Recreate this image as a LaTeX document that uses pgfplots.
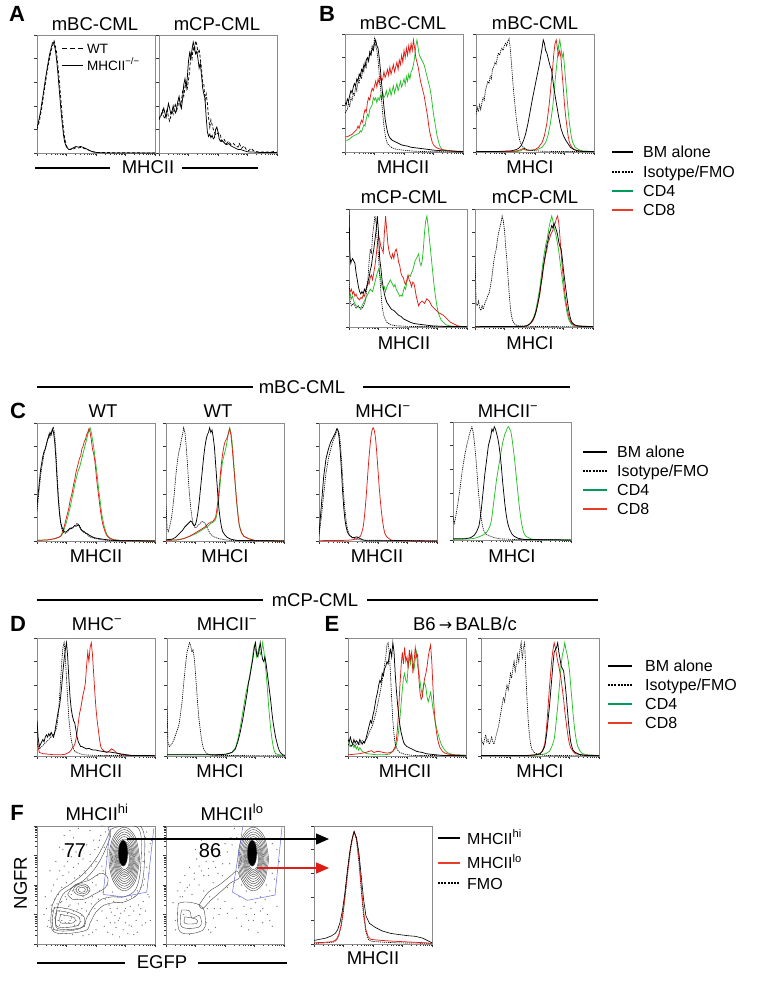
\documentclass[border=0pt]{standalone}
\usepackage{pgfplots}
\pgfplotsset{compat=1.18}
\usetikzlibrary{arrows.meta}
\usepackage{fontspec}
\setmainfont{Liberation Sans}
\newfontfamily\dejavu{DejaVu Sans}
\definecolor{cRed}{RGB}{222,30,22}
\definecolor{cGreen}{RGB}{40,190,40}
\definecolor{lGreen}{RGB}{0,155,90}
\definecolor{lRed}{RGB}{232,62,40}
\definecolor{gBlue}{RGB}{95,95,225}
\newcommand\ts{\fontsize{18.5}{20}\selectfont}
\newcommand\ls{\fontsize{16}{18}\selectfont}
\newcommand\bs{\fontsize{22}{24}\selectfont\bfseries}
\pgfplotsset{
 hbox/.style={scale only axis, width=118pt, height=118pt, xmin=0, xmax=100, ymin=0, ymax=100,
  anchor=north west, axis line style={black!45, line width=0.5pt},
  xtick={0,25,50,75,100},
  minor xtick={7.5,11.9,15.1,17.5,19.5,21.1,22.6,23.9,32.5,36.9,40.1,42.5,44.5,46.1,47.6,48.9,57.5,61.9,65.1,67.5,69.5,71.1,72.6,73.9,82.5,86.9,90.1,92.5,94.5,96.1,97.6,98.9},
  ytick={0,20,40,60,80,100}, xticklabels={}, yticklabels={},
  tick style={black!80, line width=0.4pt}, major tick length=3pt, minor tick length=1.8pt,
  tick align=outside, xtick pos=bottom, ytick pos=left},
 fbox/.style={hbox, ytick={0,25,50,75,100},
  minor ytick={7.5,11.9,15.1,17.5,19.5,21.1,22.6,23.9,32.5,36.9,40.1,42.5,44.5,46.1,47.6,48.9,57.5,61.9,65.1,67.5,69.5,71.1,72.6,73.9,82.5,86.9,90.1,92.5,94.5,96.1,97.6,98.9}},
 bk/.style={black, line width=0.75pt},
 dt/.style={black, line width=0.65pt, dash pattern=on 1.2pt off 0.9pt},
 rd/.style={cRed, line width=0.75pt},
 gr/.style={cGreen, line width=0.75pt},
 ct/.style={black!80, line width=0.35pt, smooth, tension=0.6},
 dots/.style={only marks, mark=*, mark size=0.35pt, black!55},
}
\newcommand\mainblob{
\addplot[ct] coordinates {(87,72)(83.2,91.1)(74,99)(64.8,91.1)(61,72)(64.8,52.9)(74,45)(83.2,52.9)(87,72)};
\addplot[ct] coordinates {(86,72)(82.5,89.7)(74,97)(65.5,89.7)(62,72)(65.5,54.3)(74,47)(82.5,54.3)(86,72)};
\addplot[ct] coordinates {(85,72)(81.8,88.3)(74,95)(66.2,88.3)(63,72)(66.2,55.7)(74,49)(81.8,55.7)(85,72)};
\addplot[ct] coordinates {(84,72)(81.1,86.8)(74,93)(66.9,86.8)(64,72)(66.9,57.2)(74,51)(81.1,57.2)(84,72)};
\addplot[ct] coordinates {(83,72)(80.4,85.4)(74,91)(67.6,85.4)(65,72)(67.6,58.6)(74,53)(80.4,58.6)(83,72)};
\addplot[ct] coordinates {(82.2,72)(79.8,84)(74,89)(68.2,84)(65.8,72)(68.2,60)(74,55)(79.8,60)(82.2,72)};
\addplot[ct] coordinates {(81.5,72)(79.3,82.6)(74,87)(68.7,82.6)(66.5,72)(68.7,61.4)(74,57)(79.3,61.4)(81.5,72)};
\addplot[ct] coordinates {(80.8,72)(78.8,81.5)(74,85.5)(69.2,81.5)(67.2,72)(69.2,62.5)(74,58.5)(78.8,62.5)(80.8,72)};
\addplot[ct] coordinates {(80,72)(78.2,80.5)(74,84)(69.8,80.5)(68,72)(69.8,63.5)(74,60)(78.2,63.5)(80,72)};
\addplot[ct] coordinates {(79.2,72)(77.7,79.4)(74,82.5)(70.3,79.4)(68.8,72)(70.3,64.6)(74,61.5)(77.7,64.6)(79.2,72)};
\addplot[ct] coordinates {(78.5,72)(77.2,78.4)(74,81)(70.8,78.4)(69.5,72)(70.8,65.6)(74,63)(77.2,65.6)(78.5,72)};
\addplot[ct, fill=black] coordinates {(77,77)(75.8,84.8)(73,88)(70.2,84.8)(69,77)(70.2,69.2)(73,66)(75.8,69.2)(77,77)};
}
\begin{document}
\begin{tikzpicture}[x=1pt,y=1pt]
\path[use as bounding box] (0,0) rectangle (759,-993);

% ---------------- Panel A ----------------
\node[anchor=base, font=\bs] at (17,-21) {A};
\node[anchor=base, font=\ts] at (95,-30) {mBC-CML};
\node[anchor=base, font=\ts] at (217,-30) {mCP-CML};
\begin{axis}[hbox, at={(37pt,-35pt)}]
\addplot[black, line width=0.75pt, dash pattern=on 3pt off 2pt] coordinates {(0,20)(2,27)(4,38)(6,52)(8,65)(10,77)(12,87)(13.5,92)(14.5,95)(15.5,91)(16.5,86)(17.5,76)(18.5,66)(19.5,54)(20.5,42)(21.5,30)(22.5,20)(23.5,12)(25,6)(27,3)(29,3)(31,3.5)(33,4.5)(35,4.2)(37,4.8)(39,4.2)(41,3.5)(43,2.8)(45,1.8)(48,1)(52,0.4)(100,0)};
\addplot[bk] coordinates {(0,22)(1,25)(2,30)(3,35)(4,42)(5,48)(6,55)(7,62)(8,68)(9,74)(10,80)(11,85)(12,89)(13,93)(13.8,94)(14.5,92)(15.5,88)(16.5,80)(17.5,70)(18.5,58)(19.5,46)(20.5,34)(21.5,24)(22.5,15)(23.5,9)(25,5)(27,3)(29,3.5)(31,4.5)(33,5.5)(35,5)(37,5.5)(39,4.8)(41,4)(43,3)(45,2)(47,1)(50,0.5)(55,0.2)(60,0)(100,0)};
\end{axis}
\draw[black, line width=1pt, dash pattern=on 5pt off 3pt] (62,-48) -- (83,-48);
\draw[black, line width=1pt] (62,-65) -- (83,-65);
\node[anchor=base west, inner sep=0pt, font=\fontsize{13.5}{15}\selectfont] at (87,-53) {WT};
\node[anchor=base west, inner sep=0pt, font=\fontsize{13.5}{15}\selectfont] at (87,-70) {MHCII\textsuperscript{−/−}};
\begin{axis}[hbox, at={(159pt,-35pt)}]
\addplot[black, line width=0.75pt, dash pattern=on 3pt off 2pt] coordinates {(0,28)(2,33)(3,36)(4,31)(5,29)(6,33)(7,38)(8,30)(9,27)(10,31)(11,36)(12,33)(13,38)(14,42)(15,36)(16,40)(17,45)(18,40)(19,44)(20,52)(21,48)(22,56)(23,60)(24,55)(25,62)(26,70)(27,84)(28,80)(29,90)(30,86)(31,95)(32,92)(33,85)(34,88)(35,80)(36,72)(37,60)(38,58)(39,45)(40,50)(41,42)(42,30)(43,22)(44,28)(45,24)(46,20)(47,18)(48,15)(50,17)(52,16)(53,10)(55,12)(57,8)(59,10)(61,7)(63,8)(65,6)(67,5)(68,8)(70,4)(72,6)(74,3)(76,2)(78,4)(80,2)(83,1)(86,0.8)(90,1)(94,0.6)(97,1.2)(100,0.5)};
\addplot[bk] coordinates {(0,30)(2,32)(4,38)(5,34)(6,30)(7,36)(8,42)(9,38)(10,33)(11,35)(12,40)(13,36)(14,34)(15,38)(16,44)(17,48)(18,42)(19,38)(20,46)(21,58)(22,63)(23,55)(24,64)(25,78)(26,85)(27,80)(28,88)(29,94)(30,90)(31,84)(32,86)(33,80)(34,72)(35,76)(36,66)(37,55)(38,50)(39,46)(40,30)(41,18)(42,14)(43,16)(44,13)(45,15)(46,12)(47,13)(48,20)(49,22)(50,18)(51,12)(52,10)(53,11)(55,9)(57,7)(59,8)(61,6)(63,5)(65,4)(67,3)(69,3)(72,2)(75,1)(80,0.8)(85,0.5)(90,0.4)(95,0.5)(100,0.4)};
\end{axis}
\draw[line width=1.1pt] (35,-168) -- (110,-168);
\draw[line width=1.1pt] (182,-168) -- (258,-168);
\node[anchor=base, font=\ts] at (148,-173) {MHCII};

% ---------------- Panel B ----------------
\node[anchor=base, font=\bs] at (327,-21) {B};
\node[anchor=base, font=\ts] at (403,-29) {mBC-CML};
\node[anchor=base, font=\ts] at (535,-29) {mBC-CML};
\begin{axis}[hbox, at={(345pt,-34pt)}]
\addplot[gr] coordinates {(0,10)(2,10)(4,11)(6,13)(8,14)(10,15)(12,16)(13,18)(14,17)(15,20)(16,23)(17,22)(18,28)(19,32)(20,30)(21,36)(22,38)(23,40)(24,46)(25,44)(26,46)(27,42)(28,46)(29,44)(30,48)(31,45)(32,50)(33,46)(34,48)(35,52)(36,47)(37,50)(38,54)(39,48)(40,52)(41,56)(42,50)(43,54)(44,58)(45,52)(46,56)(47,60)(48,55)(49,58)(50,62)(51,57)(52,64)(53,60)(54,66)(55,62)(56,68)(57,70)(58,74)(59,80)(60,90)(61,95)(62,88)(63,82)(64,80)(65,78)(66,76)(67,74)(68,70)(69,66)(70,62)(71,58)(72,54)(73,48)(74,40)(75,32)(76,26)(77,20)(78,14)(79,10)(80,6)(81,4)(82,2.5)(84,1.5)(88,1)(95,0.5)(100,0.4)};
\addplot[rd] coordinates {(0,13)(2,13)(4,14)(6,15)(8,17)(10,19)(11,22)(12,20)(13,24)(14,27)(15,25)(16,32)(17,36)(18,34)(19,42)(20,46)(21,44)(22,50)(23,54)(24,52)(25,56)(26,60)(27,55)(28,62)(29,58)(30,64)(31,60)(32,62)(33,68)(34,63)(35,66)(36,70)(37,65)(38,72)(39,66)(40,70)(41,74)(42,68)(43,72)(44,76)(45,70)(46,78)(47,74)(48,82)(49,76)(50,86)(51,80)(52,88)(53,82)(54,90)(55,84)(56,92)(57,86)(58,95)(59,88)(60,80)(61,76)(62,72)(63,66)(64,60)(65,56)(66,52)(67,48)(68,42)(69,36)(70,30)(71,22)(72,16)(73,12)(74,8)(75,6)(77,4)(79,3)(82,2)(86,1.5)(90,1)(95,0.6)(100,0.5)};
\addplot[dt] coordinates {(0,33)(2,36)(3,42)(4,38)(5,46)(6,44)(7,50)(8,48)(9,56)(10,52)(11,60)(12,58)(13,66)(14,62)(15,70)(16,68)(17,76)(18,72)(19,80)(20,78)(21,86)(22,82)(23,90)(24,88)(25,96)(26,90)(27,86)(28,78)(29,66)(30,56)(31,44)(32,32)(33,22)(34,15)(35,10)(36,7)(38,5)(40,3.5)(43,2.5)(46,2)(50,1.5)(55,1)(60,0.6)(70,0.3)(100,0)};
\addplot[bk] coordinates {(0,42)(1,40)(2,45)(3,43)(4,48)(5,52)(6,50)(7,55)(8,58)(9,56)(10,62)(11,60)(12,66)(13,64)(14,70)(15,68)(16,74)(17,72)(18,78)(19,80)(20,77)(21,84)(22,82)(23,88)(24,86)(25,92)(26,95)(27,90)(28,88)(29,80)(30,70)(31,58)(32,48)(33,38)(34,28)(35,22)(36,17)(37,14)(38,12)(40,10)(42,9)(44,8)(46,7)(48,6)(50,5.5)(53,5)(56,4)(60,3.5)(64,3)(68,2.5)(72,2)(76,1.5)(80,1.2)(85,1)(90,0.8)(95,0.5)(100,0.5)};
\end{axis}
\begin{axis}[hbox, at={(476pt,-34pt)}]
\addplot[gr] coordinates {(0,0.5)(35,0.5)(38,1)(40,2.5)(41,3.5)(42,2.5)(44,1.5)(48,1.5)(52,2)(56,4)(59,8)(61,14)(63,24)(65,38)(66,48)(67,60)(68,70)(69,80)(70,90)(71,95)(72,88)(73,80)(74,84)(75,72)(76,60)(77,48)(78,36)(79,26)(80,18)(81,12)(82,8)(84,4)(87,2)(90,1)(100,0.3)};
\addplot[rd] coordinates {(0,0.5)(30,0.5)(35,1)(38,2)(40,3)(41,2)(43,1.5)(46,1.5)(50,2)(53,4)(56,8)(58,14)(60,24)(62,40)(63,50)(64,62)(65,72)(66,84)(67,92)(68,95)(69,88)(70,82)(71,86)(72,80)(73,66)(74,54)(75,40)(76,30)(77,22)(78,14)(79,9)(80,6)(82,3)(85,1.5)(90,0.5)(100,0.3)};
\addplot[dt] coordinates {(0,32)(1,38)(2,34)(3,40)(4,36)(5,42)(6,46)(7,44)(8,52)(9,56)(10,60)(11,58)(12,64)(13,62)(14,70)(15,72)(16,76)(17,74)(18,80)(19,84)(20,82)(21,86)(22,88)(23,86)(24,90)(25,92)(26,90)(27,94)(28,96)(29,88)(30,76)(31,62)(32,50)(33,40)(34,30)(35,22)(36,15)(37,10)(38,7)(40,4)(42,2.5)(45,1.5)(50,1)(60,0.5)(100,0.3)};
\addplot[bk] coordinates {(0,0.5)(20,0.5)(30,1)(34,2)(36,3)(38,5)(40,9)(42,15)(44,24)(46,35)(48,46)(50,56)(52,66)(54,76)(55,82)(56,88)(57,95)(58,92)(59,86)(60,84)(61,80)(62,76)(63,72)(64,70)(65,62)(66,54)(67,48)(68,42)(69,36)(70,30)(72,20)(74,14)(76,10)(78,7)(80,4)(83,2)(86,1)(90,0.5)(100,0.3)};
\end{axis}
\node[anchor=base, font=\ts] at (403,-173) {MHCII};
\node[anchor=base, font=\ts] at (530,-173) {MHCI};
\node[anchor=base, font=\ts] at (404,-203) {mCP-CML};
\node[anchor=base, font=\ts] at (535,-203) {mCP-CML};
\begin{axis}[hbox, at={(349pt,-209pt)}]
\addplot[gr] coordinates {(0,26)(1,28)(2,24)(3,26)(4,22)(5,20)(6,18)(8,17)(10,16)(12,20)(14,24)(16,28)(18,32)(20,30)(21,34)(22,38)(23,42)(24,46)(25,49)(26,46)(27,40)(28,34)(29,32)(30,34)(31,30)(32,34)(33,36)(34,38)(35,40)(36,38)(37,36)(38,34)(39,36)(40,32)(41,30)(42,28)(43,26)(44,27)(45,26)(46,30)(47,34)(48,32)(49,38)(50,42)(51,44)(52,43)(53,46)(54,48)(55,52)(56,56)(57,58)(58,60)(59,62)(60,55)(61,52)(62,56)(63,66)(64,80)(65,90)(66,94)(67,86)(68,76)(69,66)(70,56)(71,46)(72,36)(73,28)(74,21)(75,15)(76,11)(78,6)(80,4)(82,2)(85,1)(90,0.5)(100,0.3)};
\addplot[rd] coordinates {(0,32)(1,30)(2,32)(3,28)(4,30)(5,26)(6,28)(7,25)(8,24)(9,23)(10,25)(11,24)(12,27)(13,26)(14,30)(15,34)(16,38)(17,36)(18,42)(19,44)(20,40)(21,46)(22,52)(23,60)(24,70)(25,77)(26,74)(27,68)(28,66)(29,63)(30,80)(31,94)(32,82)(33,70)(34,64)(35,60)(36,58)(37,62)(38,58)(39,64)(40,66)(41,62)(42,55)(43,52)(44,46)(45,43)(46,42)(47,38)(48,36)(49,40)(50,44)(51,40)(52,38)(53,34)(54,38)(55,37)(56,32)(57,26)(58,22)(59,18)(60,20)(62,22)(64,20)(66,24)(68,22)(70,18)(72,16)(74,14)(76,12)(78,11)(80,10)(82,8)(84,6)(86,4)(88,3)(90,2)(92,1)(95,0.5)(100,0.3)};
\addplot[dt] coordinates {(0,40)(1,22)(2,18)(4,20)(6,16)(8,18)(10,15)(12,17)(14,22)(16,40)(17,55)(18,66)(19,62)(20,78)(21,86)(22,94)(23,88)(24,72)(25,60)(26,44)(27,30)(28,18)(29,12)(30,8)(32,4)(35,2)(40,1)(50,0.5)(100,0.2)};
\addplot[bk] coordinates {(0,100)(0.8,60)(1.5,54)(2,56)(3,58)(4,56)(5,54)(6,46)(7,40)(8,34)(9,30)(10,28)(11,30)(12,28)(13,32)(14,30)(15,34)(16,38)(17,42)(18,48)(19,52)(20,60)(21,66)(22,74)(23,82)(24,94)(25,80)(26,58)(27,50)(28,40)(29,34)(30,28)(31,24)(32,21)(34,18)(36,15)(38,14)(40,12)(42,10)(44,9)(46,7)(48,6)(50,5)(52,4)(55,3)(58,2.5)(62,2)(66,1.5)(70,1)(80,0.5)(100,0.3)};
\end{axis}
\begin{axis}[hbox, at={(475pt,-209pt)}]
\addplot[gr] coordinates {(0,0.3)(42,0.5)(46,2)(49,6)(51,12)(53,22)(55,34)(56,42)(57,50)(58,58)(59,64)(60,70)(61,74)(62,80)(63,86)(64,90)(65,94)(66,90)(67,84)(68,80)(69,76)(70,70)(71,64)(72,56)(73,48)(74,40)(75,32)(76,24)(77,18)(78,12)(79,8)(80,5)(82,2)(85,1)(100,0.3)};
\addplot[rd] coordinates {(0,0.3)(42,0.5)(46,2)(49,5)(51,10)(53,18)(55,28)(56,36)(57,42)(58,50)(59,56)(60,62)(61,66)(62,72)(63,74)(64,78)(65,80)(66,82)(67,86)(68,88)(69,92)(70,94)(71,88)(72,76)(73,62)(74,50)(75,40)(76,30)(77,22)(78,16)(79,11)(80,7)(82,3)(85,1)(100,0.3)};
\addplot[dt] coordinates {(0,60)(1,20)(2,18)(3,22)(4,16)(5,14)(6,18)(7,15)(8,19)(9,22)(10,24)(11,27)(12,29)(13,34)(14,40)(15,48)(16,56)(17,62)(18,66)(19,74)(20,80)(21,84)(22,88)(23,94)(24,90)(25,82)(26,68)(27,57)(28,42)(29,28)(30,16)(31,9)(32,5)(34,2)(37,1)(45,0.5)(100,0.2)};
\addplot[bk] coordinates {(0,0.3)(40,0.5)(44,1)(47,3)(50,8)(52,14)(54,24)(55,30)(56,37)(57,44)(58,52)(59,58)(60,64)(61,70)(62,74)(63,80)(64,82)(65,86)(66,84)(67,88)(68,85)(69,82)(70,78)(71,72)(72,68)(73,66)(74,58)(75,48)(76,40)(77,32)(78,24)(79,17)(80,11)(81,7)(82,4)(84,2)(87,1)(90,0.5)(100,0.3)};
\end{axis}
\node[anchor=base, font=\ts] at (404,-349) {MHCII};
\node[anchor=base, font=\ts] at (530,-349) {MHCI};
% legend B
\draw[black, line width=1.3pt] (612,-152) -- (633,-152);
\draw[black, line width=1.2pt, dash pattern=on 2pt off 1.2pt] (612,-172) -- (633,-172);
\draw[lGreen, line width=1.3pt] (612,-191) -- (633,-191);
\draw[lRed, line width=1.3pt] (612,-210) -- (633,-210);
\node[anchor=base west, inner sep=0pt, font=\ls] at (643,-157.5) {BM alone};
\node[anchor=base west, inner sep=0pt, font=\ls] at (643,-177.5) {Isotype/FMO};
\node[anchor=base west, inner sep=0pt, font=\ls] at (643,-196.5) {CD4};
\node[anchor=base west, inner sep=0pt, font=\ls] at (643,-215.5) {CD8};

% ---------------- mBC-CML rule ----------------
\draw[line width=1.1pt] (37,-387) -- (253,-387);
\draw[line width=1.1pt] (363,-387) -- (570,-387);
\node[anchor=base, font=\ts] at (302,-393.5) {mBC-CML};

% ---------------- Panel C ----------------
\node[anchor=base, font=\bs] at (18,-418) {C};
\node[anchor=base, font=\ts] at (103,-417) {WT};
\node[anchor=base, font=\ts] at (218,-417) {WT};
\node[anchor=base, font=\ts] at (383,-417) {MHCI\textsuperscript{−}};
\node[anchor=base, font=\ts] at (508,-417) {MHCII\textsuperscript{−}};
\begin{axis}[hbox, at={(37pt,-423pt)}]
\addplot[gr] coordinates {(0,0.5)(10,1)(15,2)(18,3)(20,4)(21,5)(22,7)(23,10)(24,13)(25,16)(26,20)(27,24)(28,28)(29,33)(30,38)(31,42)(32,48)(33,52)(34,56)(35,60)(36,62)(37,66)(38,70)(39,74)(40,78)(41,82)(42,86)(43,90)(44,94)(45,96)(46,92)(47,86)(48,80)(49,72)(50,64)(51,56)(52,46)(53,38)(54,30)(55,22)(56,17)(57,12)(58,9)(59,6)(60,4.5)(62,2.5)(65,1.2)(70,0.5)(100,0)};
\addplot[rd] coordinates {(0,0.5)(10,1)(15,2)(18,3)(20,4)(21,6)(22,9)(23,12)(24,16)(25,20)(26,24)(27,28)(28,34)(29,38)(30,42)(31,48)(32,52)(33,58)(34,62)(35,66)(36,70)(37,72)(38,78)(39,80)(40,84)(41,86)(42,90)(43,92)(44,95)(45,92)(46,86)(47,78)(48,74)(49,68)(50,58)(51,48)(52,40)(53,32)(54,24)(55,18)(56,13)(57,10)(58,7)(59,5)(60,3.5)(62,2)(65,1)(70,0.5)(100,0)};
\addplot[dt] coordinates {(0,25)(1,35)(2,45)(3,55)(4,62)(5,68)(6,74)(7,78)(8,82)(9,86)(10,90)(11,88)(12,92)(13,94)(14,96)(15,90)(16,76)(17,58)(18,40)(19,26)(20,16)(21,10)(22,8)(23,7)(24,6.5)(25,7)(26,8)(27,9)(28,10)(29,11)(30,11.5)(31,12)(32,13)(33,14)(34,15)(35,14)(36,13)(37,11)(38,9)(39,8)(40,7)(42,6)(44,4)(46,3)(48,2.5)(50,2)(55,1)(60,0.5)(100,0)};
\addplot[bk] coordinates {(0,30)(1,40)(2,50)(3,60)(4,66)(5,72)(6,76)(7,78)(8,82)(9,86)(10,88)(11,92)(12,90)(13,95)(14,92)(15,84)(16,70)(17,52)(18,36)(19,24)(20,16)(21,12)(22,10)(23,8)(24,7.5)(25,8)(26,9)(27,10)(28,11)(29,10.5)(30,11)(31,12)(32,13)(33,12.5)(34,13)(35,14)(36,12)(37,10)(38,9)(39,8.5)(40,8)(41,7)(42,6.5)(43,6)(44,5)(46,4)(48,3)(50,2.5)(53,2)(56,1.5)(60,1)(65,0.5)(70,0.3)(100,0)};
\end{axis}
\begin{axis}[hbox, at={(166pt,-423pt)}]
\addplot[gr] coordinates {(0,0.5)(10,1)(15,2)(20,4)(25,6)(30,9)(33,11)(36,13)(38,15)(40,16)(42,18)(43,22)(44,28)(45,38)(46,50)(47,60)(48,68)(49,72)(50,76)(51,80)(52,86)(53,92)(54,96)(55,92)(56,84)(57,72)(58,58)(59,44)(60,32)(61,22)(62,14)(63,10)(64,7)(66,4)(70,2)(75,0.5)(100,0)};
\addplot[rd] coordinates {(0,0.5)(10,1)(15,2)(20,4)(25,7)(30,10)(33,12)(36,15)(38,16)(40,17)(42,20)(43,26)(44,34)(45,44)(46,56)(47,66)(48,74)(49,80)(50,84)(51,86)(52,88)(53,92)(54,95)(55,90)(56,80)(57,68)(58,56)(59,44)(60,32)(61,22)(62,14)(63,10)(64,7)(66,4)(70,2)(75,0.5)(100,0)};
\addplot[dt] coordinates {(0,30)(1,10)(2,8)(3,12)(4,16)(5,22)(6,30)(7,40)(8,52)(9,62)(10,70)(11,76)(12,80)(13,86)(14,90)(15,96)(16,92)(17,82)(18,68)(19,52)(20,38)(21,28)(22,20)(23,15)(24,12)(25,11)(26,12)(27,13)(28,14)(29,15)(30,16)(31,16.5)(32,16)(33,15)(34,13)(35,11)(36,9)(37,7)(38,5.5)(40,4)(42,3)(45,2)(50,1)(55,0.5)(100,0)};
\addplot[bk] coordinates {(0,1)(5,1.5)(8,3)(10,5)(12,7)(14,9)(16,12)(18,14)(20,16)(21,17)(22,16)(23,14)(24,13)(25,14)(26,18)(27,24)(28,32)(29,42)(30,52)(31,62)(32,72)(33,80)(34,86)(35,90)(36,92)(37,96)(38,92)(39,94)(40,88)(41,80)(42,66)(43,52)(44,38)(45,26)(46,18)(47,12)(48,8)(50,5)(52,3)(55,1.5)(60,0.5)(100,0)};
\end{axis}
\begin{axis}[hbox, at={(319pt,-423pt)}]
\addplot[rd, smooth] coordinates {(0,0.3)(20,0.5)(28,1)(32,2)(35,4)(37,10)(38,16)(39,26)(40,38)(41,52)(42,66)(43,78)(44,88)(45,94)(46,96)(47,93)(48,86)(49,74)(50,60)(51,46)(52,34)(53,24)(54,16)(55,10)(56,6)(58,3)(60,1.5)(65,0.5)(100,0)};
\addplot[dt] coordinates {(0,4)(2,20)(4,40)(6,58)(8,70)(10,78)(12,85)(14,90)(15.5,95)(17,92)(18,84)(19,70)(20,54)(21,38)(22,26)(23,17)(24,11)(25,7)(26,5)(28,3)(30,2)(35,0.8)(100,0)};
\addplot[bk] coordinates {(0,6)(2,30)(4,55)(6,70)(8,78)(10,84)(12,88)(14,92)(15,95)(16,94)(17,88)(18,76)(19,60)(20,42)(21,28)(22,18)(23,12)(24,8)(25,6)(26,4.5)(27,4)(28,3)(30,3)(32,3.5)(34,2.5)(37,1)(40,0.3)(100,0)};
\end{axis}
\begin{axis}[hbox, at={(453pt,-422pt)}]
\addplot[gr, smooth] coordinates {(0,0.5)(15,1)(20,2)(25,4)(28,6)(30,9)(32,14)(33,20)(34,28)(35,36)(36,44)(37,52)(38,58)(39,64)(40,70)(41,76)(42,82)(43,86)(44,90)(45,92)(46,95)(47,96)(48,94)(49,92)(50,86)(51,78)(52,70)(53,60)(54,50)(55,40)(56,30)(57,22)(58,15)(59,10)(60,6)(62,3)(65,1.5)(70,0.5)(100,0)};
\addplot[dt] coordinates {(0,20)(1,14)(2,18)(4,30)(6,44)(8,60)(10,72)(12,82)(14,90)(16,96)(17,92)(18,84)(19,74)(20,62)(21,48)(22,36)(23,26)(24,18)(25,12)(26,8)(28,5)(30,4)(32,3)(35,2)(40,1)(50,0.5)(100,0)};
\addplot[bk] coordinates {(0,1)(10,1)(15,2)(18,4)(20,7)(22,12)(23,18)(24,26)(25,36)(26,46)(27,56)(28,64)(29,72)(30,80)(31,84)(32,88)(33,94)(34,92)(35,96)(36,94)(37,90)(38,86)(39,80)(40,72)(41,62)(42,50)(43,40)(44,30)(45,22)(46,16)(47,12)(48,9)(49,7)(50,5)(52,3)(55,1.5)(60,0.5)(100,0)};
\end{axis}
\node[anchor=base, font=\ts] at (96,-562) {MHCII};
\node[anchor=base, font=\ts] at (225,-562) {MHCI};
\node[anchor=base, font=\ts] at (377,-562) {MHCII};
\node[anchor=base, font=\ts] at (512,-562) {MHCI};
% legend C
\draw[black, line width=1.3pt] (583,-452) -- (607,-452);
\draw[black, line width=1.2pt, dash pattern=on 2pt off 1.2pt] (583,-471) -- (607,-471);
\draw[lGreen, line width=1.3pt] (583,-490) -- (607,-490);
\draw[lRed, line width=1.3pt] (583,-509) -- (607,-509);
\node[anchor=base west, inner sep=0pt, font=\ls] at (617,-457.5) {BM alone};
\node[anchor=base west, inner sep=0pt, font=\ls] at (617,-476.5) {Isotype/FMO};
\node[anchor=base west, inner sep=0pt, font=\ls] at (617,-495.5) {CD4};
\node[anchor=base west, inner sep=0pt, font=\ls] at (617,-514.5) {CD8};

% ---------------- mCP-CML rule ----------------
\draw[line width=1.1pt] (37,-600) -- (263,-600);
\draw[line width=1.1pt] (367,-600) -- (598,-600);
\node[anchor=base, font=\ts] at (315,-606.5) {mCP-CML};

% ---------------- Panel D ----------------
\node[anchor=base, font=\bs] at (18,-631) {D};
\node[anchor=base, font=\bs] at (332,-631) {E};
\node[anchor=base, font=\ts] at (97,-630) {MHC\textsuperscript{−}};
\node[anchor=base, font=\ts] at (227,-630) {MHCII\textsuperscript{−}};
\node[anchor=base, font=\ts] at (465,-630) {B6\,{\dejavu\fontsize{16}{18}\selectfont →}\,BALB/c};
\begin{axis}[hbox, at={(37pt,-638pt)}]
\addplot[rd] coordinates {(0,30)(0.8,8)(2,3)(5,2)(10,1.5)(15,1)(20,1)(24,1.5)(27,3)(29,5)(30,7)(31,8)(32,10)(33,14)(34,20)(35,28)(36,36)(37,40)(38,46)(39,52)(40,56)(41,62)(42,76)(43,88)(44,80)(45,92)(46,96)(47,86)(48,70)(49,54)(50,40)(51,30)(52,22)(53,14)(54,8)(55,6)(57,4)(59,3)(61,4)(63,6)(65,5)(67,3)(70,1.5)(75,1)(80,0.5)(100,0.3)};
\addplot[dt] coordinates {(0,12)(1,8)(2,6)(4,8)(6,10)(8,12)(10,14)(12,16)(14,18)(16,22)(17,26)(18,34)(19,48)(20,64)(21,80)(22,92)(23,96)(24,84)(25,66)(26,48)(27,32)(28,22)(29,14)(30,9)(31,6)(32,4)(34,3)(36,2)(40,1)(50,0.5)(100,0.3)};
\addplot[bk] coordinates {(0,30)(1,15)(2,8)(3,10)(4,12)(5,14)(6,12)(7,16)(8,18)(9,16)(10,19)(11,17)(12,20)(13,18)(14,16)(15,20)(16,26)(17,32)(18,38)(19,42)(20,50)(21,60)(22,72)(23,82)(24,90)(25,96)(26,84)(27,66)(28,50)(29,40)(30,34)(31,30)(32,28)(33,22)(34,16)(35,12)(36,10)(37,8)(38,8)(40,7)(42,6)(44,6.5)(46,5.5)(48,5)(50,5)(52,4.5)(55,4)(58,3.5)(61,3.5)(64,3)(67,2.5)(70,2)(73,1.5)(76,1)(80,0.5)(100,0.3)};
\end{axis}
\begin{axis}[hbox, at={(167pt,-638pt)}]
\addplot[gr] coordinates {(0,1)(30,1)(45,1.2)(50,1.5)(55,3)(58,7)(60,14)(62,24)(63,30)(64,36)(65,42)(66,48)(67,54)(68,58)(69,62)(70,68)(71,74)(72,80)(73,88)(74,94)(75,90)(76,84)(77,88)(78,92)(79,86)(80,88)(81,96)(82,90)(83,80)(84,70)(85,58)(86,44)(87,32)(88,22)(89,14)(90,8)(91,4)(92,2)(95,1)(100,0.5)};
\addplot[dt] coordinates {(0,42)(0.8,12)(2,8)(4,10)(6,14)(8,20)(10,26)(11,32)(12,40)(13,48)(14,60)(15,70)(16,80)(17,88)(18,92)(19,96)(20,94)(21,88)(22,90)(23,84)(24,72)(25,58)(26,44)(27,32)(28,24)(29,16)(30,10)(31,6)(32,4)(34,2)(36,1)(40,0.5)(100,0.2)};
\addplot[bk] coordinates {(0,1)(30,1)(45,1.2)(50,1.5)(55,3)(58,6)(60,12)(62,20)(64,30)(65,36)(66,42)(67,48)(68,54)(69,62)(70,66)(71,72)(72,78)(73,84)(74,92)(75,96)(76,86)(77,84)(78,90)(79,96)(80,88)(81,82)(82,80)(83,84)(84,78)(85,70)(86,62)(87,54)(88,46)(89,36)(90,28)(91,22)(92,16)(93,12)(94,8)(95,5)(96,3)(98,1)(100,0.5)};
\end{axis}
\begin{axis}[hbox, at={(348pt,-638pt)}]
\addplot[gr] coordinates {(0,13)(1,11)(2,9)(3,8)(4,10)(5,7)(6,9)(7,6)(8,8)(9,5)(10,7)(12,4)(14,3)(16,2)(20,1.5)(25,1)(30,1)(35,1.5)(38,4)(40,6)(41,10)(42,14)(43,22)(44,32)(45,44)(46,56)(47,66)(48,70)(49,64)(50,62)(51,76)(52,84)(53,78)(54,86)(55,80)(56,74)(57,82)(58,88)(59,76)(60,72)(61,64)(62,56)(63,52)(64,60)(65,62)(66,58)(67,50)(68,46)(69,50)(70,54)(71,48)(72,40)(73,34)(74,28)(75,24)(76,20)(77,16)(78,13)(79,10)(80,8)(82,5)(84,3)(86,2)(90,1)(100,0.5)};
\addplot[rd] coordinates {(0,1)(5,1.5)(10,2)(15,3)(18,4)(20,4.5)(22,3)(25,4)(28,3.5)(30,3)(33,2.5)(36,3)(38,4)(39,6)(40,8)(41,14)(42,24)(43,40)(44,60)(45,76)(46,88)(47,78)(48,92)(49,80)(50,84)(51,74)(52,90)(53,82)(54,88)(55,70)(56,80)(57,92)(58,84)(59,86)(60,66)(61,54)(62,48)(63,50)(64,60)(65,66)(66,70)(67,76)(68,84)(69,90)(70,94)(71,80)(72,58)(73,40)(74,28)(75,20)(76,14)(77,10)(78,7)(80,4)(82,2.5)(85,1.5)(90,1)(100,0.5)};
\addplot[dt] coordinates {(0,10)(2,8)(4,10)(6,9)(8,11)(10,10)(12,13)(14,12)(16,15)(18,20)(20,24)(22,30)(24,38)(26,48)(28,58)(29,64)(30,70)(31,78)(32,84)(33,94)(34,96)(35,88)(36,70)(37,48)(38,30)(39,18)(40,10)(42,5)(44,3)(48,1.5)(55,0.5)(100,0.2)};
\addplot[bk] coordinates {(0,14)(1,12)(2,16)(3,12)(4,10)(5,14)(6,11)(7,13)(8,12)(9,10)(10,14)(11,12)(12,10)(13,12)(14,11)(15,14)(16,18)(17,22)(18,26)(19,30)(20,28)(21,34)(22,38)(23,44)(24,50)(25,54)(26,60)(27,64)(28,62)(29,70)(30,68)(31,74)(32,76)(33,80)(34,78)(35,86)(36,90)(37,84)(38,96)(39,88)(40,70)(41,56)(42,44)(43,34)(44,26)(45,20)(46,16)(47,12)(48,10)(50,8)(52,7)(54,6)(56,5)(58,4)(60,3.5)(63,3)(66,2)(70,1.5)(75,1)(80,0.5)(100,0.3)};
\end{axis}
\begin{axis}[hbox, at={(481pt,-638pt)}]
\addplot[gr] coordinates {(0,0.5)(45,0.5)(50,1)(55,2)(58,4)(60,8)(62,14)(63,22)(64,32)(65,42)(66,54)(67,66)(68,78)(69,86)(70,90)(71,96)(72,90)(73,86)(74,80)(75,72)(76,60)(77,48)(78,36)(79,26)(80,18)(81,12)(82,8)(84,4)(86,2)(90,1)(100,0.3)};
\addplot[rd] coordinates {(0,0.5)(40,0.5)(46,1)(50,2)(52,4)(54,10)(55,18)(56,30)(57,44)(58,58)(59,70)(60,82)(61,90)(62,96)(63,92)(64,86)(65,80)(66,76)(67,70)(68,64)(69,56)(70,48)(71,38)(72,30)(73,22)(74,15)(75,10)(76,7)(78,4)(80,2)(85,1)(100,0.3)};
\addplot[dt] coordinates {(0,15)(1,12)(2,10)(3,14)(4,18)(5,12)(6,14)(7,10)(8,12)(9,16)(10,12)(11,10)(12,14)(13,18)(14,22)(15,26)(16,32)(17,38)(18,44)(19,50)(20,46)(21,54)(22,60)(23,56)(24,62)(25,70)(26,66)(27,74)(28,80)(29,72)(30,78)(31,86)(32,80)(33,90)(34,96)(35,82)(36,92)(37,96)(38,70)(39,48)(40,30)(41,18)(42,10)(43,6)(45,3)(48,1.5)(55,0.5)(100,0.2)};
\addplot[bk] coordinates {(0,0.5)(40,0.5)(46,1)(50,2)(52,4)(54,8)(55,14)(56,22)(57,32)(58,42)(59,54)(60,66)(61,78)(62,88)(63,90)(64,92)(65,96)(66,88)(67,82)(68,76)(69,74)(70,72)(71,64)(72,54)(73,42)(74,30)(75,20)(76,12)(77,8)(78,5)(80,3)(83,1.5)(88,0.5)(100,0.3)};
\end{axis}
\node[anchor=base, font=\ts] at (96,-777) {MHCII};
\node[anchor=base, font=\ts] at (220,-777) {MHCI};
\node[anchor=base, font=\ts] at (405,-777) {MHCII};
\node[anchor=base, font=\ts] at (540,-777) {MHCI};
% legend E
\draw[black, line width=1.3pt] (608,-666) -- (632,-666);
\draw[black, line width=1.2pt, dash pattern=on 2pt off 1.2pt] (608,-685) -- (632,-685);
\draw[lGreen, line width=1.3pt] (608,-704) -- (632,-704);
\draw[lRed, line width=1.3pt] (608,-723) -- (632,-723);
\node[anchor=base west, inner sep=0pt, font=\ls] at (645,-671.5) {BM alone};
\node[anchor=base west, inner sep=0pt, font=\ls] at (645,-690.5) {Isotype/FMO};
\node[anchor=base west, inner sep=0pt, font=\ls] at (645,-709.5) {CD4};
\node[anchor=base west, inner sep=0pt, font=\ls] at (645,-728.5) {CD8};

% ---------------- Panel F ----------------
\node[anchor=base, font=\bs] at (17,-820) {F};
\node[anchor=base, font=\ts] at (97,-820) {MHCII\textsuperscript{hi}};
\node[anchor=base, font=\ts] at (232,-820) {MHCII\textsuperscript{lo}};
\begin{axis}[fbox, at={(37pt,-826pt)}]
\addplot[dots] coordinates {(10,20)(12,45)(14,50)(15,38)(17,55)(18,42)(19,62)(20,35)(21,48)(22,58)(23,66)(24,40)(25,52)(26,70)(27,61)(28,33)(29,74)(30,45)(31,65)(32,56)(33,78)(34,38)(35,68)(36,58)(37,80)(38,30)(39,72)(40,62)(41,35)(42,84)(43,55)(44,25)(45,76)(46,66)(47,40)(48,88)(49,30)(50,70)(51,20)(52,82)(53,45)(54,92)(55,28)(56,62)(57,15)(58,38)(59,22)(60,10)(61,33)(62,18)(63,27)(64,8)(65,36)(66,24)(67,14)(68,30)(69,20)(70,6)(71,26)(72,35)(73,12)(74,28)(75,18)(76,38)(77,9)(78,24)(79,32)(80,15)(82,28)(83,40)(84,20)(85,10)(86,33)(87,25)(88,48)(89,16)(90,36)(91,55)(92,28)(93,65)(94,42)(95,78)(96,20)(97,88)(8,30)(6,25)(11,62)(13,28)(16,70)(9,15)(7,40)(22,80)(26,85)(31,90)(20,25)(24,18)(44,45)(50,50)(47,10)(40,15)(36,22)(55,100)(58,95)(92,90)(90,70)(14,12)(18,20)(22,14)(28,20)(32,16)(12,33)(16,26)(26,26)(34,29)(38,24)(42,28)(46,34)(52,38)(56,44)(19,82)(23,92)(28,96)(35,98)(45,96)(18,9)(25,9)(30,8)(39,7)
(11,14)(13,18)(15,22)(17,12)(19,16)(21,20)(23,24)(25,14)(27,18)(29,22)(31,12)(33,20)(35,16)(37,19)(13,24)(15,30)(19,28)(23,30)(27,32)(31,28)(35,34)(39,40)(43,48)(47,52)(51,58)(55,66)(59,74)(57,82)(53,88)(49,80)(45,70)(41,60)(37,52)(33,46)(29,42)(25,38)(21,36)(17,34)(60,50)(64,44)(68,40)(80,40)(85,45)(90,50)(95,60)(96,85)(93,95)(60,80)(58,60)(62,30)(66,18)(70,22)(75,30)(78,16)(82,8)(88,30)(92,18)(95,40)(50,12)(44,8)};
\addplot[ct] coordinates {(13,33)(18.8,44)(28.6,51)(39.8,60)(51,74)(60.8,93)(62,99.5)(88,99.5)(91,70)(87,45)(75,36)(65,35)(57,33)(50,27)(45,18)(40,11)(14,10.5)(13,33)};
\addplot[ct] coordinates {(17,30)(22,42)(30,48)(42,56)(53,70)(62,90)(64,98)(86,98)(88,68)(84,47)(74,40)(64,40)(55,38)(48,32)(42,22)(38,14)(17,13.5)(17,30)};
\addplot[ct] coordinates {(26,42)(32,50)(44,54)(54,60)(60,56)(58,48)(48,42)(40,38)(30,38)(26,42)};
\addplot[ct] coordinates {(14.6,31)(14.6,12.4)(37,13.3)(39.8,23)(30,28.8)(18.8,31)(14.6,31)};
\addplot[ct] coordinates {(17,28)(17,15)(34,15.5)(36,22)(29,26)(20,28)(17,28)};
\addplot[ct] coordinates {(20,25)(20,18)(31,18)(32,22)(26,24)(20,25)};
\addplot[ct] coordinates {(45,46)(42.9,49.5)(38,51)(33.1,49.5)(31,46)(33.1,42.5)(38,41)(42.9,42.5)(45,46)};
\addplot[ct] coordinates {(43,46)(41.5,48.5)(38,49.5)(34.5,48.5)(33,46)(34.5,43.5)(38,42.5)(41.5,43.5)(43,46)};
\addplot[ct] coordinates {(41,46)(40.1,47.6)(38,48.2)(35.9,47.6)(35,46)(35.9,44.4)(38,43.8)(40.1,44.4)(41,46)};
\mainblob
\addplot[gBlue, line width=0.45pt] coordinates {(62,98)(56,42)(73,40)(93,44)(99,98)};
\end{axis}
\begin{axis}[fbox, at={(166pt,-826pt)}]
\addplot[dots] coordinates {(8,20)(10,45)(12,52)(14,40)(16,58)(18,48)(20,65)(22,42)(24,55)(26,72)(28,50)(30,62)(32,45)(34,70)(36,58)(38,80)(40,52)(42,65)(44,38)(46,75)(48,58)(50,85)(52,48)(54,68)(56,30)(58,52)(60,22)(62,40)(64,15)(66,32)(68,25)(70,12)(72,30)(74,20)(76,35)(78,10)(80,28)(82,18)(84,38)(86,25)(88,45)(90,15)(92,55)(94,32)(96,70)(6,35)(15,25)(35,30)(45,25)(55,90)(58,98)(90,85)(25,80)(30,88)(37,40)(41,30)(50,36)(8,12)(34,18)(38,10)
(12,40)(16,45)(20,50)(24,60)(28,66)(32,58)(36,64)(40,70)(44,60)(48,68)(52,78)(56,84)(60,90)(62,70)(64,50)(68,45)(80,40)(85,50)(90,60)(94,80)(70,20)(75,25)(82,30)(88,20)(46,30)(52,26)(40,22)(36,12)(42,14)(20,8)};
\addplot[ct] coordinates {(10.4,34.5)(11.8,10.5)(31.4,11.9)(32.8,26)(28.6,33)(17.4,35.6)(10.4,34.5)};
\addplot[ct] coordinates {(13.2,28.8)(13.2,14.7)(28.6,14.7)(28.6,24)(22,22)(20,28)(13.2,28.8)};
\addplot[ct] coordinates {(16,23)(16,17.5)(25.8,17.5)(25.8,21)(16,23)};
\addplot[ct] coordinates {(28,33)(36,44)(45,50)(55,58)(60,62)(62,56)(55,52)(46,44)(38,37)(31,30)(28,33)};
\mainblob
\addplot[gBlue, line width=0.45pt] coordinates {(65,99)(56.3,44)(68.9,37)(92.4,41.5)(98.3,99)};
\end{axis}
\node[anchor=base, font=\fontsize{20}{22}\selectfont] at (75,-857) {77};
\node[anchor=base, font=\fontsize{20}{22}\selectfont] at (210,-857) {86};
\node[anchor=base, rotate=90, font=\ts] at (27,-883) {NGFR};
\draw[line width=1.1pt] (37,-963) -- (125,-963);
\draw[line width=1.1pt] (198,-963) -- (287,-963);
\node[anchor=base, font=\ts] at (162,-968) {EGFP};
\begin{axis}[hbox, at={(314pt,-826pt)}]
\addplot[dt] coordinates {(0,0.5)(10,1)(16,1.5)(19,3)(21,7)(23,15)(25,28)(27,46)(29,64)(31,80)(33,92)(34,96)(36,88)(38,70)(40,46)(42,24)(44,10)(46,4)(48,2.5)(52,2)(60,1.5)(70,1)(85,0.8)(100,0.5)};
\addplot[rd] coordinates {(0,1)(10,1.5)(16,2)(19,4)(21,8)(23,16)(25,30)(27,48)(29,66)(31,82)(33,92)(34,95)(36,90)(38,74)(40,50)(42,28)(44,12)(46,6)(48,4)(52,3.5)(58,3)(65,2.5)(75,2)(85,1.5)(95,1)(100,0.5)};
\addplot[black, line width=0.6pt] coordinates {(0,3)(5,4)(10,5)(15,7)(18,9)(20,12)(22,18)(24,28)(26,42)(28,60)(30,76)(32,88)(34,95)(36,90)(38,78)(40,58)(42,38)(44,24)(47,17.5)(52,14)(58,11)(65,9)(72,8)(80,7)(86,6.5)(92,5)(96,3)(100,1)};
\end{axis}
\node[anchor=base, font=\ts] at (373,-964) {MHCII};
\draw[line width=1.2pt, -{Triangle[length=13pt,width=11pt]}] (127,-839) -- (329,-839);
\draw[cRed, line width=1.2pt, -{Triangle[length=13pt,width=11pt]}] (257,-868) -- (329,-868);
% legend F
\draw[black, line width=1.3pt] (438,-838) -- (460,-838);
\draw[lRed, line width=1.3pt] (438,-863) -- (460,-863);
\draw[black, line width=1.2pt, dash pattern=on 2pt off 1.2pt] (438,-883) -- (460,-883);
\node[anchor=base west, inner sep=0pt, font=\ls] at (467,-844) {MHCII\textsuperscript{hi}};
\node[anchor=base west, inner sep=0pt, font=\ls] at (467,-868.5) {MHCII\textsuperscript{lo}};
\node[anchor=base west, inner sep=0pt, font=\ls] at (467,-889) {FMO};
\end{tikzpicture}
\end{document}
